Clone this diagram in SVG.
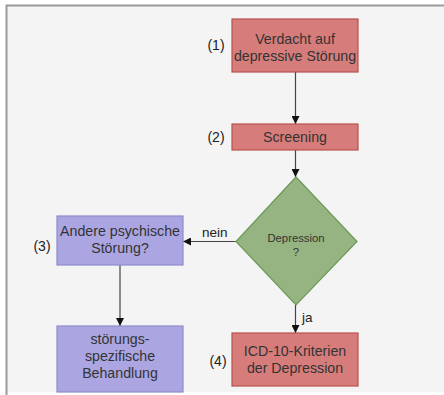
<svg xmlns="http://www.w3.org/2000/svg" width="444" height="395" viewBox="0 0 444 395">
  <style>
    text { font-family: "Liberation Sans", Arial, sans-serif; fill: #333; }
    .t { font-size: 14.2px; text-anchor: middle; }
    .n { font-size: 14px; text-anchor: middle; fill: #222; }
    .lbl { font-size: 13.5px; fill: #222; }
    .red { fill: #d67d7b; stroke: #b8504d; stroke-width: 1.2; }
    .violet { fill: #aba6e2; stroke: #8f8acb; stroke-width: 1.2; }
    .green { fill: #96b482; stroke: #6b9a56; stroke-width: 1.2; }
    .edge { stroke: #444; stroke-width: 1.2; fill: none; marker-end: url(#arrow); }
  </style>
  <defs>
    <marker id="arrow" viewBox="0 0 10 10" refX="10" refY="5" markerWidth="8" markerHeight="8" markerUnits="userSpaceOnUse" orient="auto">
      <path d="M0,0 L10,5 L0,10 z" fill="#111"/>
    </marker>
  </defs>

  <!-- canvas and frame -->
  <rect x="0" y="0" width="444" height="395" fill="#ffffff"/>
  <rect x="6" y="5" width="438" height="387" fill="#f4f4f4"/>
  <path d="M6.5,395 V5.5 H444" stroke="#9a9a9a" stroke-width="2" fill="none"/>

  <!-- connectors -->
  <g id="connectors">
    <line class="edge" x1="295.5" y1="72" x2="295.5" y2="124"/>
    <line class="edge" x1="295.5" y1="150" x2="295.5" y2="177"/>
    <line class="edge" x1="236" y1="241.5" x2="183" y2="241.5"/>
    <line class="edge" x1="120" y1="265" x2="120" y2="326"/>
    <line class="edge" x1="295.5" y1="305" x2="295.5" y2="333"/>
    <text class="lbl" x="202" y="236.5">nein</text>
    <text class="lbl" x="302" y="322">ja</text>
  </g>

  <g id="node-verdacht">
    <rect class="red" x="232" y="19" width="126" height="53"/>
    <text class="t" x="295" y="44">Verdacht auf</text>
    <text class="t" x="295" y="61">depressive Störung</text>
    <text class="n" x="216" y="50">(1)</text>
  </g>

  <g id="node-screening">
    <rect class="red" x="232" y="124" width="126" height="26"/>
    <text class="t" x="295" y="141.5">Screening</text>
    <text class="n" x="216" y="141.5">(2)</text>
  </g>

  <g id="node-depression">
    <polygon class="green" points="296,177 357,241.5 296,305 236,241.5"/>
    <text x="296" y="241.5" font-size="11.3" text-anchor="middle" fill="#2a2a2a">Depression</text>
    <text x="296" y="255.5" font-size="11.3" text-anchor="middle" fill="#2a2a2a">?</text>
  </g>

  <g id="node-andere">
    <rect class="violet" x="57" y="216" width="126" height="49"/>
    <text class="t" x="120" y="236">Andere psychische</text>
    <text class="t" x="120" y="253">Störung?</text>
    <text class="n" x="42" y="251">(3)</text>
  </g>

  <g id="node-behandlung">
    <rect class="violet" x="57" y="326" width="126" height="66"/>
    <text class="t" x="120" y="344">störungs-</text>
    <text class="t" x="120" y="361">spezifische</text>
    <text class="t" x="120" y="378">Behandlung</text>
  </g>

  <g id="node-icd">
    <rect class="red" x="232" y="333" width="126" height="53"/>
    <text class="t" x="295" y="356">ICD-10-Kriterien</text>
    <text class="t" x="295" y="373">der Depression</text>
    <text class="n" x="218" y="366">(4)</text>
  </g>
</svg>
